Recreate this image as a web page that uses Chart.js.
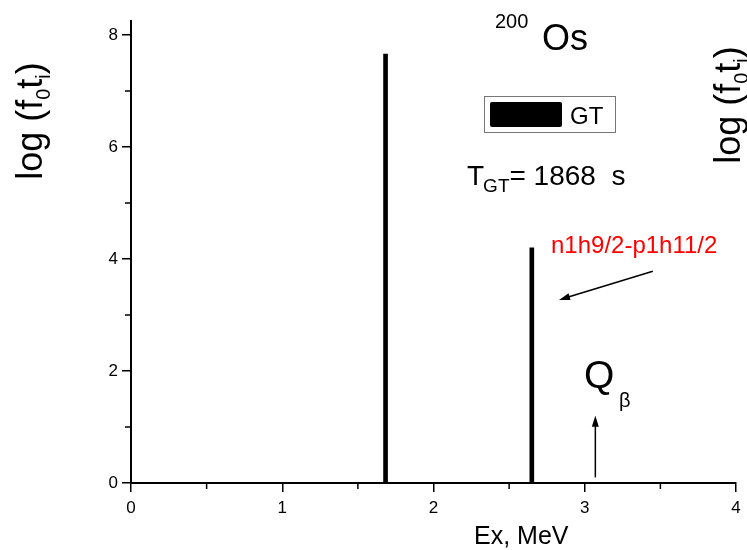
<!DOCTYPE html>
<html>
<head>
<meta charset="utf-8">
<script src="https://cdn.jsdelivr.net/npm/chart.js@4.4.0/dist/chart.umd.min.js"></script>
<style>
  html, body { margin: 0; padding: 0; background: #fff; }
  #wrap { width: 747px; height: 550px; }
</style>
</head>
<body>
<div id="wrap"><canvas id="chart" width="747" height="550"></canvas></div>
<script>
// excitation energies (MeV) and log(f0 t_i) of the GT states
const energies = [1.683, 2.65];
const logFt = [7.66, 4.2];
const xTicks = [0, 1, 2, 3, 4];
const yTicks = [0, 2, 4, 6, 8];
const qBeta = 3.07;

const FONT = '"Liberation Sans", Arial, sans-serif';

function arrow(ctx, x1, y1, x2, y2) {
    const a = Math.atan2(y2 - y1, x2 - x1);
    ctx.beginPath();
    ctx.moveTo(x1, y1);
    ctx.lineTo(x2 - 8 * Math.cos(a), y2 - 8 * Math.sin(a));
    ctx.stroke();
    ctx.beginPath();
    ctx.moveTo(x2, y2);
    ctx.lineTo(x2 - 11 * Math.cos(a) + 3.5 * Math.sin(a), y2 - 11 * Math.sin(a) - 3.5 * Math.cos(a));
    ctx.lineTo(x2 - 11 * Math.cos(a) - 3.5 * Math.sin(a), y2 - 11 * Math.sin(a) + 3.5 * Math.cos(a));
    ctx.closePath();
    ctx.fill();
}

// rotated "log (f0 ti)" with subscripts
function logLabel(ctx, bx, cy) {
    const big = '36px ' + FONT, sub = '20px ' + FONT;
    const parts = [['log (f', big, 0], ['0', sub, 8], ['t', big, 0], ['i', sub, 8], [')', big, 0]];
    let w = 0;
    parts.forEach(p => { ctx.font = p[1]; w += ctx.measureText(p[0]).width; });
    ctx.save();
    ctx.translate(bx, cy);
    ctx.rotate(-Math.PI / 2);
    ctx.textBaseline = 'alphabetic';
    ctx.textAlign = 'left';
    let u = -w / 2;
    parts.forEach(p => {
        ctx.font = p[1];
        ctx.fillText(p[0], u, p[2]);
        u += ctx.measureText(p[0]).width;
    });
    ctx.restore();
}

const decor = {
    id: 'decor',
    afterDraw(chart) {
        const ctx = chart.ctx;
        const xs = chart.scales.x, ys = chart.scales.y;
        ctx.save();
        ctx.fillStyle = '#000';
        ctx.strokeStyle = '#000';

        // minor ticks
        ctx.lineWidth = 1.5;
        ctx.beginPath();
        for (let v = 0.5; v < 4; v += 1) {
            const px = xs.getPixelForValue(v);
            ctx.moveTo(px, ys.bottom);
            ctx.lineTo(px, ys.bottom + 6);
        }
        for (let v = 1; v < 8; v += 2) {
            const py = ys.getPixelForValue(v);
            ctx.moveTo(xs.left, py);
            ctx.lineTo(xs.left - 6, py);
        }
        ctx.stroke();

        ctx.textBaseline = 'alphabetic';
        ctx.textAlign = 'left';

        // axis titles
        logLabel(ctx, 42, 121);
        logLabel(ctx, 740, 105);
        ctx.font = '25px ' + FONT;
        ctx.fillText('Ex, MeV', 474, 544);

        // nucleus
        ctx.font = '20px ' + FONT;
        ctx.fillText('200', 495, 28);
        ctx.font = '36px ' + FONT;
        ctx.fillText('Os', 542, 50);

        // legend
        ctx.lineWidth = 1;
        ctx.strokeStyle = '#777';
        ctx.strokeRect(484.5, 96.5, 131, 36);
        ctx.fillStyle = '#000';
        ctx.beginPath();
        ctx.roundRect(490, 102, 72, 25, 2);
        ctx.fill();
        ctx.font = '24px ' + FONT;
        ctx.fillText('GT', 570, 123.5);

        // half-life
        ctx.font = '28px ' + FONT;
        ctx.fillText('T', 467, 185);
        let x = 467 + ctx.measureText('T').width;
        ctx.font = '19px ' + FONT;
        ctx.fillText('GT', x - 1, 192);
        x += ctx.measureText('GT').width - 1;
        ctx.font = '28px ' + FONT;
        ctx.fillText('= 1868  s', x, 185);

        // configuration label + arrow
        ctx.fillStyle = '#ff0000';
        ctx.font = '24px ' + FONT;
        ctx.fillText('n1h9/2-p1h11/2', 551, 253);
        ctx.fillStyle = '#000';
        ctx.strokeStyle = '#000';
        ctx.lineWidth = 1.5;
        arrow(ctx, xs.getPixelForValue(3.45), ys.getPixelForValue(3.78),
                   xs.getPixelForValue(2.83), ys.getPixelForValue(3.27));

        // Q beta
        ctx.font = '39px ' + FONT;
        ctx.fillText('Q', 584, 388);
        ctx.font = '20px ' + FONT;
        ctx.fillText('\u03b2', 619, 407);
        arrow(ctx, xs.getPixelForValue(qBeta), ys.getPixelForValue(0.1),
                   xs.getPixelForValue(qBeta), ys.getPixelForValue(1.2));
        ctx.restore();
    }
};

new Chart(document.getElementById('chart'), {
    type: 'bar',
    data: {
        datasets: [{
            label: 'GT',
            data: energies.map((e, i) => ({ x: e, y: logFt[i] })),
            backgroundColor: '#000',
            borderWidth: 0,
            barThickness: 4
        }]
    },
    options: {
        responsive: false,
        animation: false,
        layout: { padding: { left: 0, right: 11, top: 21, bottom: 0 } },
        plugins: { legend: { display: false }, tooltip: { enabled: false } },
        scales: {
            x: {
                type: 'linear',
                min: 0,
                max: 4,
                offset: false,
                afterFit: s => { s.height = 67; },
                afterBuildTicks: s => { s.ticks = xTicks.map(v => ({ value: v })); },
                ticks: { color: '#000', font: { family: FONT, size: 17 }, padding: 6, maxRotation: 0 },
                grid: { offset: false, drawOnChartArea: false, color: '#000', lineWidth: 1.5, tickLength: 9 },
                border: { display: true, color: '#000', width: 2 }
            },
            y: {
                min: 0,
                max: 8.25,
                afterFit: s => { s.width = 131; },
                afterBuildTicks: s => { s.ticks = yTicks.map(v => ({ value: v })); },
                ticks: { color: '#000', font: { family: FONT, size: 17 }, padding: 4 },
                grid: { drawOnChartArea: false, color: '#000', lineWidth: 1.5, tickLength: 9 },
                border: { display: true, color: '#000', width: 2 }
            }
        }
    },
    plugins: [decor]
});
</script>
</body>
</html>
